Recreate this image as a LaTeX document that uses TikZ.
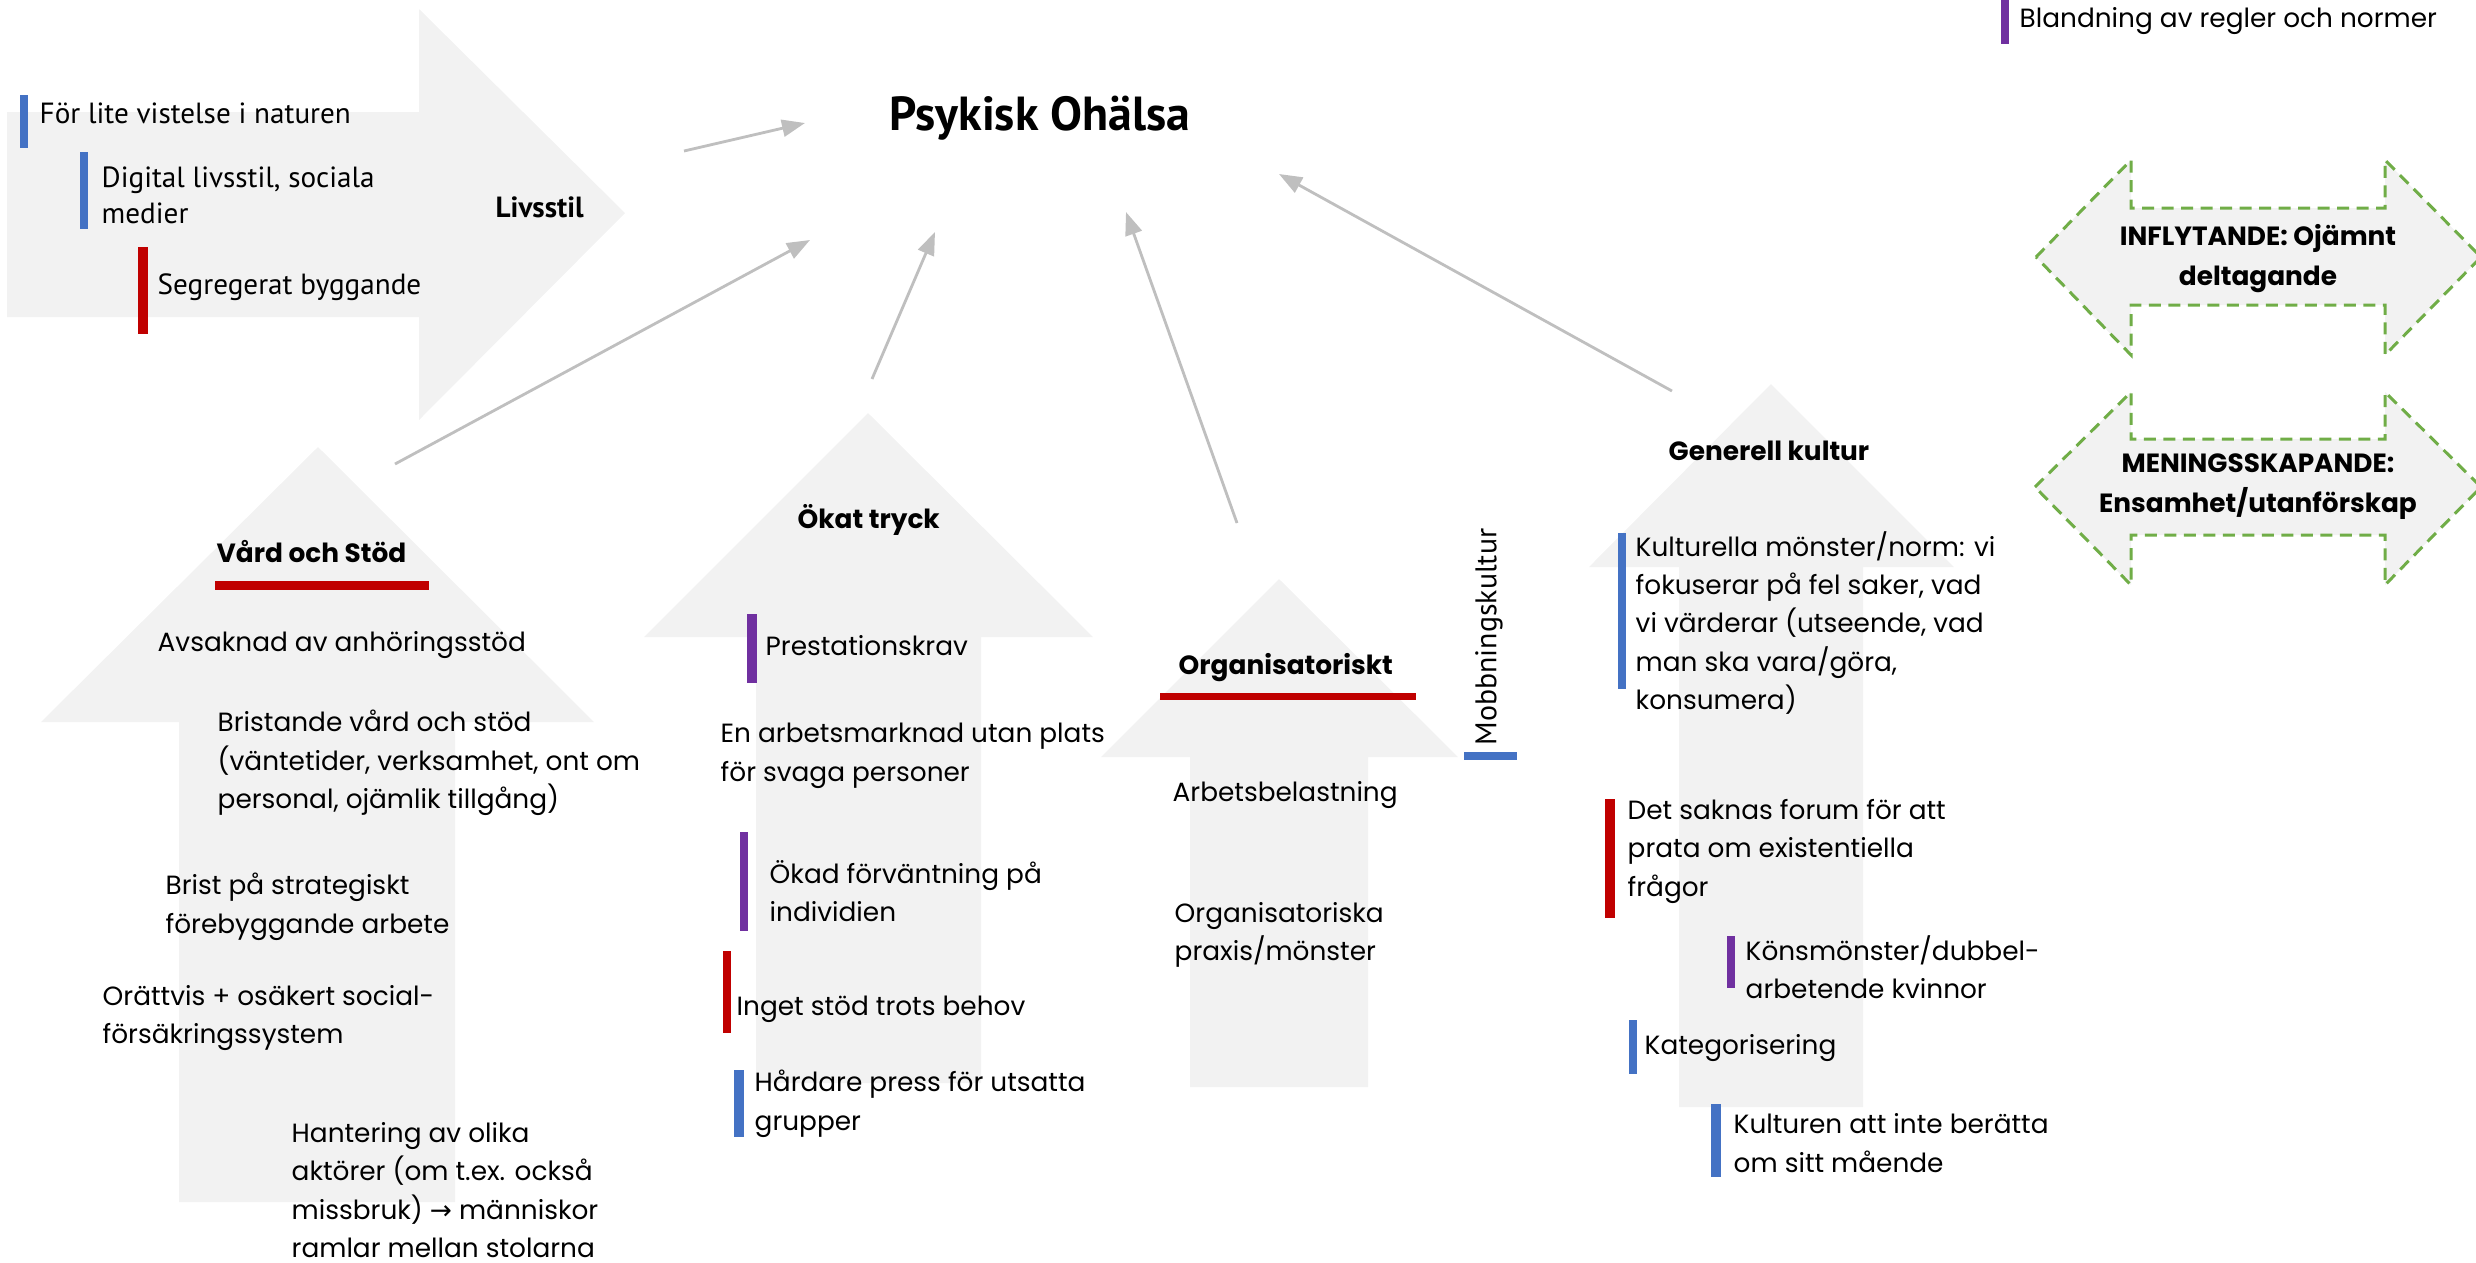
\documentclass[tikz,border=0pt]{standalone}
\usepackage{fontspec}
\setmainfont{Poppins}
\newfontfamily\twfont{PT Sans}
\newfontfamily\djfont{DejaVu Sans}
\usetikzlibrary{arrows.meta}
\definecolor{shapegray}{HTML}{F2F2F2}
\definecolor{conngray}{HTML}{BFBFBF}
\definecolor{barblue}{HTML}{4472C4}
\definecolor{barred}{HTML}{C00000}
\definecolor{barpurple}{HTML}{7030A0}
\definecolor{dashgreen}{HTML}{70AD47}
\tikzset{
  cg/.style={font=\fontsize{7.5}{10.95}\selectfont, anchor=west, align=left, inner sep=0pt},
  cgb/.style={font=\fontsize{7.5}{10.95}\selectfont\bfseries, anchor=west, align=left, inner sep=0pt},
  cgbc/.style={font=\fontsize{7.5}{11.4}\selectfont\bfseries, anchor=center, align=center, inner sep=0pt},
  tw/.style={font=\twfont\fontsize{8.3}{10.24}\selectfont, anchor=west, align=left, inner sep=0pt},
  twb/.style={font=\twfont\fontsize{8.3}{10.24}\selectfont\bfseries, anchor=west, align=left, inner sep=0pt},
  bigarrow/.style={fill=shapegray, draw=none},
  dblarrow/.style={fill=shapegray, draw=dashgreen, line width=0.85pt, dash pattern=on 1.2mm off 0.75mm},
  conn/.style={draw=conngray, line width=0.8pt, -{Triangle[length=2.3mm,width=1.7mm]}},
  bblue/.style={fill=barblue, draw=none},
  bred/.style={fill=barred, draw=none},
  bpurple/.style={fill=barpurple, draw=none}
}
\begin{document}
\begin{tikzpicture}[x=0.1mm, y=-0.1mm]
\useasboundingbox (0,0) rectangle (2476,1262);

% ---------- big block arrows ----------
\fill[bigarrow] (7,112) -- (419,112) -- (419,9) -- (625,213) -- (419,420) -- (419,317) -- (7,317) -- cycle;
\fill[bigarrow] (318,447) -- (594,722) -- (455,722) -- (455,1202) -- (179,1202) -- (179,722) -- (41,722) -- cycle;
\fill[bigarrow] (868,413) -- (1093,637) -- (981,637) -- (981,1083) -- (756,1083) -- (756,637) -- (644,637) -- cycle;
\fill[bigarrow] (1279,579) -- (1458,757) -- (1368,757) -- (1368,1087) -- (1190,1087) -- (1190,757) -- (1101,757) -- cycle;
\fill[bigarrow] (1771,384) -- (1954,567) -- (1863,567) -- (1863,1107) -- (1679,1107) -- (1679,567) -- (1589,567) -- cycle;

% ---------- double arrows ----------
\path[dblarrow] (2036,257) -- (2131,160) -- (2131,208) -- (2385,208) -- (2385,160) -- (2481,257) -- (2385,355) -- (2385,305) -- (2131,305) -- (2131,355) -- cycle;
\path[dblarrow] (2035,487) -- (2131,392) -- (2131,439) -- (2385,439) -- (2385,392) -- (2481,487) -- (2385,585) -- (2385,535) -- (2131,535) -- (2131,585) -- cycle;

% ---------- title ----------
\node[font=\twfont\fontsize{13.6}{16}\selectfont\bfseries, inner sep=0pt] (title) at (1040,118) {Psykisk Ohälsa};

% ---------- connector end points ----------
\coordinate (s1) at (684,151);  \coordinate (t1) at (805,123);
\coordinate (s2) at (395,464);  \coordinate (t2) at (810,240);
\coordinate (s3) at (872,379);  \coordinate (t3) at (935,232);
\coordinate (s4) at (1237,523); \coordinate (t4) at (1126,212);
\coordinate (s5) at (1672,391); \coordinate (t5) at (1279,174);
\draw[conn] (s1) -- (t1);
\draw[conn] (s2) -- (t2);
\draw[conn] (s3) -- (t3);
\draw[conn] (s4) -- (t4);
\draw[conn] (s5) -- (t5);

% ---------- legend top right ----------
\fill[bpurple] (2001,0) rectangle (2009,44);
\node[cg] (legend) at (2019,21) {Blandning av regler och normer};

% ---------- double arrow texts ----------
\node[cgbc] (infl) at (2258,259) {INFLYTANDE: Ojämnt\\deltagande};
\node[cgbc] (mening) at (2258,487) {MENINGSSKAPANDE:\\Ensamhet/utanförskap};

% ---------- Livsstil ----------
\fill[bblue] (20,95) rectangle (28,148);
\node[tw] (l1) at (39,113) {För lite vistelse i naturen};
\fill[bblue] (80,152) rectangle (88,229);
\node[tw] (l2) at (101,195) {Digital livsstil, sociala\\medier};
\fill[bred] (138,247) rectangle (148,334);
\node[tw] (l3) at (157,287) {Segregerat byggande};
\node[twb] (livsstil) at (495,207) {Livsstil};

% ---------- Vård och Stöd ----------
\node[cgb] (vard) at (216,552) {Vård och Stöd};
\fill[bred] (215,581) rectangle (429,590);
\node[cg] (v1) at (157,645) {Avsaknad av anhöringsstöd};
\node[cg] (v2) at (217,763) {Bristande vård och stöd\\(väntetider, verksamhet, ont om\\personal, ojämlik tillgång)};
\node[cg] (v3) at (165,907) {Brist på strategiskt\\förebyggande arbete};
\node[cg] (v4) at (102,1018) {Orättvis + osäkert social-\\försäkringssystem};
\node[cg] (v5) at (291,1190) {Hantering av olika\\aktörer (om t.ex. också\\missbruk) {\djfont →} människor\\ramlar mellan stolarna};

% ---------- Ökat tryck ----------
\node[cgb] (okat) at (797,520) {Ökat tryck};
\fill[bpurple] (747,614) rectangle (757,683);
\node[cg] (o1) at (765,646) {Prestationskrav};
\node[cg] (o2) at (720,756) {En arbetsmarknad utan plats\\för svaga personer};
\fill[bpurple] (740,832) rectangle (748,931);
\node[cg] (o3) at (769,891) {Ökad förväntning på\\individien};
\fill[bred] (723,951) rectangle (731,1033);
\node[cg] (o4) at (736,1009) {Inget stöd trots behov};
\fill[bblue] (734,1070) rectangle (744,1137);
\node[cg] (o5) at (754,1104) {Hårdare press för utsatta\\grupper};

% ---------- Organisatoriskt ----------
\node[cgb] (org) at (1178,668) {Organisatoriskt};
\fill[bred] (1160,693) rectangle (1416,700);
\node[cg] (g1) at (1172,795) {Arbetsbelastning};
\node[cg] (g2) at (1174,935) {Organisatoriska\\praxis/mönster};
\node[font=\twfont\fontsize{8.5}{10}\selectfont, rotate=90, inner sep=0pt] (mobb) at (1489,637) {Mobbningskultur};
\fill[bblue] (1464,752) rectangle (1517,760);

% ---------- Generell kultur ----------
\node[cgb] (gen) at (1668,451) {Generell kultur};
\fill[bblue] (1618,533) rectangle (1626,689);
\node[cg] (k1) at (1635,623) {Kulturella mönster/norm: vi\\fokuserar på fel saker, vad\\vi värderar (utseende, vad\\man ska vara/göra,\\konsumera)};
\fill[bred] (1605,799) rectangle (1615,918);
\node[cg] (k2) at (1627,851) {Det saknas forum för att\\prata om existentiella\\frågor};
\fill[bpurple] (1727,936) rectangle (1735,988);
\node[cg] (k3) at (1745,967) {Könsmönster/dubbel-\\arbetende kvinnor};
\fill[bblue] (1629,1020) rectangle (1637,1074);
\node[cg] (k4) at (1644,1048) {Kategorisering};
\fill[bblue] (1711,1104) rectangle (1721,1177);
\node[cg] (k5) at (1733,1143) {Kulturen att inte berätta\\om sitt mående};
\end{tikzpicture}
\end{document}
